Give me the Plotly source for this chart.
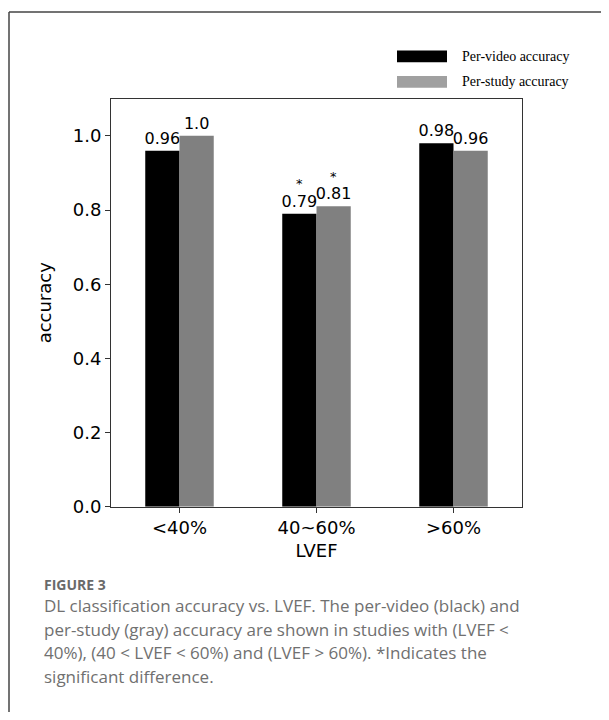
import plotly.graph_objects as go

# page body has an 8px margin; the figure is sized so the page is exactly 609x720
OFF = 8
W, H = 609 - OFF, 720 - 2 * OFF

categories = ["&lt;40%", "40~60%", "&gt;60%"]
series_names = ["Per-video accuracy", "Per-study accuracy"]
per_video = [0.96, 0.79, 0.98]
per_study = [1.0, 0.81, 0.96]
per_video_labels = ["0.96", "0.79", "0.98"]
per_study_labels = ["1.0", "0.81", "0.96"]
significant = [False, True, False]
y_ticks = [0.0, 0.2, 0.4, 0.6, 0.8, 1.0]
y_tick_labels = ["0.0", "0.2", "0.4", "0.6", "0.8", "1.0"]
figure_label = "FIGURE 3"
caption_lines = [
    "DL classification accuracy vs. LVEF. The per-video (black) and",
    "per-study (gray) accuracy are shown in studies with (LVEF &lt;",
    "40%), (40 &lt; LVEF &lt; 60%) and (LVEF &gt; 60%). *Indicates the",
    "significant difference.",
]
colors = ["#000000", "#808080"]
BARGAP = 0.5


def px(x):
    return (x - OFF) / W


def py(y):
    return 1 - (y - OFF) / H


fig = go.Figure()
xs = list(range(len(categories)))
for name, vals, labs, col in zip(series_names, [per_video, per_study],
                                 [per_video_labels, per_study_labels], colors):
    fig.add_trace(go.Bar(
        x=xs, y=vals, name=name,
        marker=dict(color=col, line=dict(width=0)),
        text=labs, textposition="outside", constraintext="none",
        textfont=dict(family="DejaVu Sans", size=16, color="#000"),
        cliponaxis=False, showlegend=False,
    ))

# significance stars above the labels of both bars of a group
bar_w = (1 - BARGAP) / len(series_names)
for s_idx, vals in enumerate([per_video, per_study]):
    offset = (s_idx - (len(series_names) - 1) / 2) * bar_w
    for i, (v, sig) in enumerate(zip(vals, significant)):
        if sig:
            fig.add_annotation(x=i + offset, y=v, xref="x", yref="y", text="*",
                               showarrow=False, yanchor="middle", yshift=30,
                               font=dict(family="DejaVu Sans", size=13, color="#000"))

axis_font = dict(family="DejaVu Sans", size=18, color="#000")
fig.update_layout(
    width=W, height=H, margin=dict(l=0, r=0, t=0, b=0),
    paper_bgcolor="white", plot_bgcolor="white",
    barmode="group", bargap=BARGAP, bargroupgap=0,
    xaxis=dict(domain=[px(111), px(522)], range=[-0.5, 2.5],
               tickmode="array", tickvals=xs,
               ticktext=categories, ticks="outside", ticklen=5,
               tickcolor="#333", showline=True, linecolor="#333", linewidth=1,
               mirror=True, showgrid=False, zeroline=False,
               tickfont=axis_font,
               title=dict(text="LVEF", standoff=6, font=axis_font)),
    yaxis=dict(domain=[py(514), py(100)], range=[0, 1.1],
               tickmode="array", tickvals=y_ticks, ticktext=y_tick_labels,
               ticks="outside", ticklen=5, tickcolor="#333",
               showline=True, linecolor="#333", linewidth=1, mirror=True,
               showgrid=False, zeroline=False,
               tickfont=axis_font,
               title=dict(text="accuracy", standoff=16, font=axis_font)),
)

shapes = [
    dict(type="line", xref="paper", yref="paper", x0=px(9), x1=px(620),
         y0=py(12), y1=py(12), line=dict(color="#444", width=1.5)),
    dict(type="line", xref="paper", yref="paper", x0=px(9), x1=px(9),
         y0=py(12), y1=py(730), line=dict(color="#444", width=1.5)),
]
legend_y = [57, 83]
for name, col, yc in zip(series_names, ["#000000", "#a0a0a0"], legend_y):
    shapes.append(dict(type="rect", xref="paper", yref="paper",
                       x0=px(397), x1=px(447), y0=py(yc - 6), y1=py(yc + 6),
                       fillcolor=col, line=dict(width=0)))
    fig.add_annotation(text=name, xref="paper", yref="paper", x=px(460), y=py(yc),
                       xanchor="left", yanchor="middle", showarrow=False,
                       font=dict(family="Liberation Serif", size=14, color="#000"))
fig.update_layout(shapes=shapes)

fig.add_annotation(text="<b>" + figure_label + "</b>", xref="paper", yref="paper",
                   x=px(42), y=py(593), xanchor="left", yanchor="middle", showarrow=False,
                   font=dict(family="Open Sans", size=14, color="#6a6a6a"))
for i, line in enumerate(caption_lines):
    fig.add_annotation(text=line, xref="paper", yref="paper", x=px(42), y=py(614 + 24 * i),
                       xanchor="left", yanchor="middle", showarrow=False,
                       font=dict(family="Open Sans", size=17, color="#707070"))

fig.write_html("out.html")
